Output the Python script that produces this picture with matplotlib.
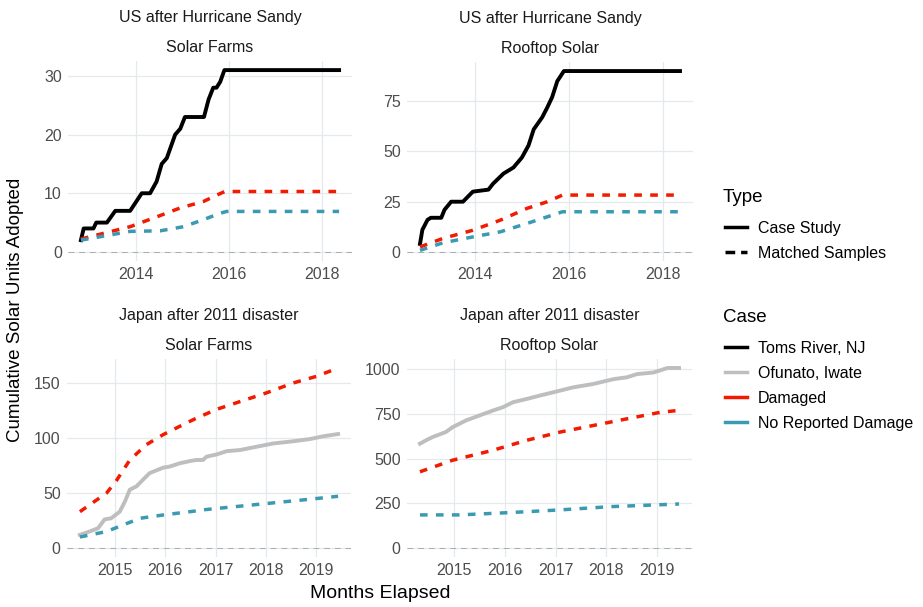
import matplotlib
matplotlib.use("Agg")
import matplotlib.pyplot as plt
from matplotlib.lines import Line2D

plt.rcParams['font.family'] = ['Liberation Sans', 'DejaVu Sans']

# US after Hurricane Sandy - solar farms
us_farm_x = [2012.81, 2012.87, 2013.08, 2013.14, 2013.37, 2013.55, 2013.87, 2014.12, 2014.30,
             2014.44, 2014.55, 2014.66, 2014.84, 2014.95, 2015.05, 2015.46, 2015.56, 2015.66,
             2015.73, 2015.81, 2015.90, 2018.37]
us_farm_toms = [2, 4, 4, 5, 5, 7, 7, 10, 10, 12, 15, 16, 20, 21, 23, 23, 26, 28, 28, 29, 31, 31]
us_farm_dmg_x = [2012.81, 2013.87, 2014.45, 2014.95, 2015.45, 2015.74, 2015.91, 2018.37]
us_farm_dmg = [2.2, 4.3, 6.0, 7.5, 8.6, 9.7, 10.3, 10.3]
us_farm_nodmg_x = [2012.81, 2013.87, 2014.52, 2015.02, 2015.45, 2015.81, 2015.95, 2018.37]
us_farm_nodmg = [2.0, 3.5, 3.6, 4.3, 5.5, 6.6, 6.9, 6.9]

# US after Hurricane Sandy - rooftop solar
us_roof_x = [2012.84, 2012.89, 2013.00, 2013.07, 2013.29, 2013.36, 2013.50, 2013.75, 2013.96,
             2014.29, 2014.39, 2014.61, 2014.82, 2015.00, 2015.14, 2015.25, 2015.43, 2015.54,
             2015.64, 2015.75, 2015.89, 2018.35]
us_roof_toms = [4, 11, 16, 17, 17, 21, 25, 25, 30, 31, 34, 39, 42, 47, 53, 61, 67, 72, 77, 85, 90, 90]
us_roof_mx = [2012.84, 2013.32, 2013.96, 2014.54, 2015.11, 2015.54, 2015.86, 2018.35]
us_roof_dmg = [2.5, 6.7, 10.8, 15.8, 21.7, 25.0, 28.3, 28.3]
us_roof_nodmg = [0.8, 4.5, 7.5, 10.0, 14.2, 17.5, 20.0, 20.0]

# Japan after 2011 disaster - solar farms
jp_farm_x = [2014.31, 2014.50, 2014.67, 2014.80, 2014.93, 2015.10, 2015.20, 2015.30, 2015.43,
             2015.56, 2015.69, 2015.96, 2016.09, 2016.29, 2016.49, 2016.62, 2016.75, 2016.82,
             2017.02, 2017.22, 2017.48, 2017.81, 2018.14, 2018.54, 2018.87, 2019.13, 2019.43]
jp_farm_ofunato = [12, 15, 18, 26, 27, 33, 42, 53, 56, 62, 68, 73, 74, 77, 79, 80, 80, 83,
                   85, 88, 89, 92, 95, 97, 99, 101.5, 103.6]
jp_farm_dmg_x = [2014.31, 2014.84, 2015.03, 2015.30, 2015.63, 2015.96, 2016.29, 2016.62,
                 2017.02, 2017.48, 2018.01, 2018.54, 2019.00, 2019.43]
jp_farm_dmg = [33, 50, 61, 80, 94, 103, 110.6, 118, 126, 133, 141, 150, 156, 163.6]
jp_farm_nodmg_x = [2014.31, 2014.84, 2015.17, 2015.50, 2015.96, 2016.49, 2016.82, 2017.48,
                   2018.14, 2018.80, 2019.43]
jp_farm_nodmg = [10, 15, 21, 27, 30, 33, 35, 38, 41, 44, 47]

# Japan after 2011 disaster - rooftop solar
jp_roof_x = [2014.32, 2014.44, 2014.57, 2014.83, 2014.97, 2015.23, 2015.50, 2015.76, 2015.96,
             2016.16, 2016.43, 2016.69, 2016.95, 2017.35, 2017.75, 2018.15, 2018.41, 2018.61,
             2018.94, 2019.21, 2019.44]
jp_roof_ofunato = [583, 602, 620, 648, 676, 713, 741, 768, 787, 815, 833, 852, 870, 898, 917,
                   944, 954, 972, 981, 1006, 1006]
jp_roof_dmg_x = [2014.32, 2014.97, 2015.76, 2016.43, 2017.09, 2017.75, 2018.41, 2019.08, 2019.44]
jp_roof_dmg = [426, 491, 546, 602, 648, 685, 722, 759, 769]
jp_roof_nodmg_x = [2014.32, 2015.10, 2016.10, 2017.09, 2018.08, 2019.44]
jp_roof_nodmg = [185, 185, 198, 213, 231, 246]

us_xticks = [2014, 2016, 2018]
jp_xticks = [2015, 2016, 2017, 2018, 2019]
yticks = [[0, 10, 20, 30], [0, 25, 50, 75], [0, 50, 100, 150], [0, 250, 500, 750, 1000]]
strip_top = ["US after Hurricane Sandy", "US after Hurricane Sandy",
             "Japan after 2011 disaster", "Japan after 2011 disaster"]
strip_bottom = ["Solar Farms", "Rooftop Solar", "Solar Farms", "Rooftop Solar"]

c_toms = "black"
c_ofu = "#BEBEBE"
c_dmg = "#F21A00"
c_nodmg = "#3B9AB2"
lw = 2.5
dash = (2.2, 2.4)

W, H = 923, 607
fig = plt.figure(figsize=(W / 100, H / 100), dpi=100)
# panel boxes in pixels: left, top, right, bottom
boxes = [(68, 61, 352, 261), (407, 62, 693, 261), (67, 359, 351, 557), (407, 359, 692, 557)]
axes = []
for (l, t, r, b) in boxes:
    axes.append(fig.add_axes([l / W, 1 - b / H, (r - l) / W, (b - t) / H]))

ax1, ax2, ax3, ax4 = axes
ax1.plot(us_farm_x, us_farm_toms, color=c_toms, lw=2.8)
ax1.plot(us_farm_dmg_x, us_farm_dmg, color=c_dmg, lw=lw, dashes=dash)
ax1.plot(us_farm_nodmg_x, us_farm_nodmg, color=c_nodmg, lw=lw, dashes=dash)

ax2.plot(us_roof_x, us_roof_toms, color=c_toms, lw=2.8)
ax2.plot(us_roof_mx, us_roof_dmg, color=c_dmg, lw=lw, dashes=dash)
ax2.plot(us_roof_mx, us_roof_nodmg, color=c_nodmg, lw=lw, dashes=dash)

ax3.plot(jp_farm_x, jp_farm_ofunato, color=c_ofu, lw=2.8)
ax3.plot(jp_farm_dmg_x, jp_farm_dmg, color=c_dmg, lw=lw, dashes=dash)
ax3.plot(jp_farm_nodmg_x, jp_farm_nodmg, color=c_nodmg, lw=lw, dashes=dash)

ax4.plot(jp_roof_x, jp_roof_ofunato, color=c_ofu, lw=2.8)
ax4.plot(jp_roof_dmg_x, jp_roof_dmg, color=c_dmg, lw=lw, dashes=dash)
ax4.plot(jp_roof_nodmg_x, jp_roof_nodmg, color=c_nodmg, lw=lw, dashes=dash)

for i, ax in enumerate(axes):
    ax.axhline(0, color="#A8ADB3", lw=0.7, dashes=(6, 5), zorder=1)
    ax.margins(x=0.05)
    ymax = max(max(l.get_ydata()) for l in ax.get_lines())
    ax.set_ylim(-0.05 * ymax, 1.05 * ymax)
    ax.set_xticks(us_xticks if i < 2 else jp_xticks)
    ax.set_xticklabels([str(t) for t in (us_xticks if i < 2 else jp_xticks)])
    ax.set_yticks(yticks[i])
    ax.grid(True, color="#E5E9EE", lw=0.9)
    ax.set_axisbelow(True)
    for s in ax.spines.values():
        s.set_visible(False)
    ax.tick_params(length=0, labelsize=11.5, labelcolor="#4D4D4D", pad=4.5)
    ax.annotate(strip_top[i], xy=(0.5, 1), xycoords="axes fraction", xytext=(0, 39),
                textcoords="offset pixels", ha="center", va="baseline", fontsize=11.5,
                color="#1A1A1A")
    ax.annotate(strip_bottom[i], xy=(0.5, 1), xycoords="axes fraction", xytext=(0, 9),
                textcoords="offset pixels", ha="center", va="baseline", fontsize=11.5,
                color="#1A1A1A")

fig.text(16 / W, 1 - 310 / H, "Cumulative Solar Units Adopted", rotation=90,
         ha="center", va="center", fontsize=13.5)
fig.text(380 / W, 1 - 594 / H, "Months Elapsed", ha="center", va="center", fontsize=14)

# legends: titles as plain text, keys via fig.legend
fig.text(723 / W, 1 - 202 / H, "Type", ha="left", va="baseline", fontsize=13.5)
fig.text(723 / W, 1 - 322 / H, "Case", ha="left", va="baseline", fontsize=13.5)
type_handles = [Line2D([], [], color="black", lw=2.5),
                Line2D([], [], color="black", lw=2.5, dashes=(2.8, 1.7))]
fig.legend(type_handles, ["Case Study", "Matched Samples"],
           loc="upper left", bbox_to_anchor=(725 / W, 1 - 221 / H), frameon=False,
           fontsize=11.5, borderpad=0, borderaxespad=0, handlelength=1.35,
           handletextpad=0.7, labelspacing=0.62)
case_handles = [Line2D([], [], color=c, lw=2.5) for c in [c_toms, c_ofu, c_dmg, c_nodmg]]
fig.legend(case_handles, ["Toms River, NJ", "Ofunato, Iwate", "Damaged", "No Reported Damage"],
           loc="upper left", bbox_to_anchor=(725 / W, 1 - 341 / H), frameon=False,
           fontsize=11.5, borderpad=0, borderaxespad=0, handlelength=1.35,
           handletextpad=0.7, labelspacing=0.62)

fig.savefig("out.png", dpi=100)
